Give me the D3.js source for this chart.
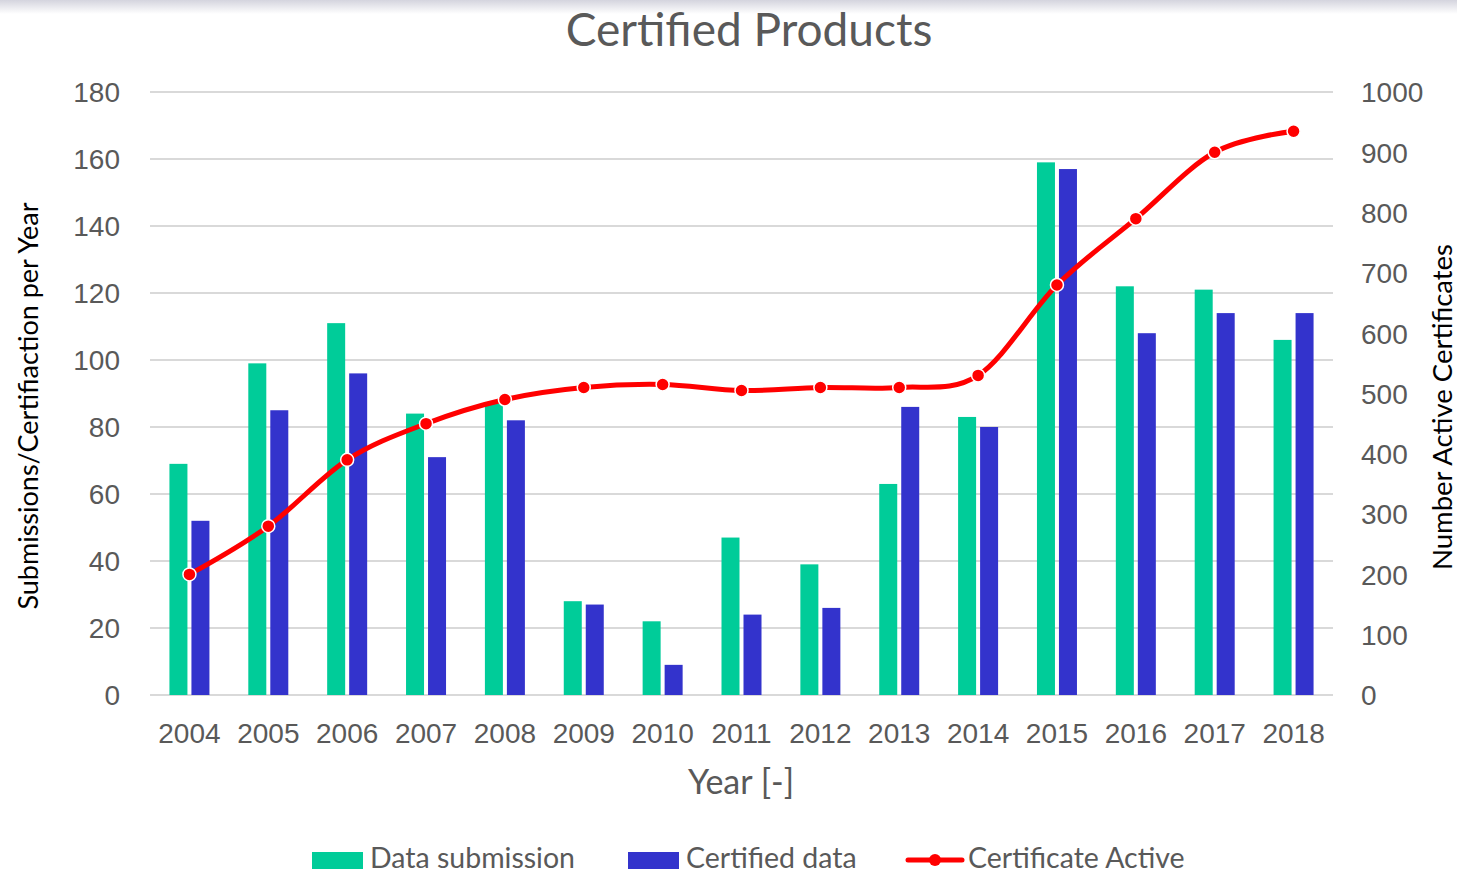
<!DOCTYPE html>
<html>
<head>
<meta charset="utf-8">
<script src="https://cdn.jsdelivr.net/npm/d3@7"></script>
<style>
  body { margin: 0; background: #fff; }
  svg { display: block; font-family: Lato, "Open Sans", sans-serif; }
</style>
</head>
<body>
<svg width="1457" height="875"></svg>
<script>
const years = ['2004', '2005', '2006', '2007', '2008', '2009', '2010', '2011', '2012', '2013', '2014', '2015', '2016', '2017', '2018'];
const submissions = [69, 99, 111, 84, 87, 28, 22, 47, 39, 63, 83, 159, 122, 121, 106];
const certified = [52, 85, 96, 71, 82, 27, 9, 24, 26, 86, 80, 157, 108, 114, 114];
const activeCerts = [200, 280, 390, 450, 490, 510, 515, 505, 510, 510, 530, 680, 790, 900, 935];
const leftTicks = [0, 20, 40, 60, 80, 100, 120, 140, 160, 180];
const rightTicks = [0, 100, 200, 300, 400, 500, 600, 700, 800, 900, 1000];

const svg = d3.select('svg');
const margin = { left: 150, right: 1333, top: 92, bottom: 695 };
const textGrey = '#595959';

// faint shadow along the top edge
const defs = svg.append('defs');
const grad = defs.append('linearGradient').attr('id', 'topShade')
    .attr('x1', 0).attr('y1', 0).attr('x2', 0).attr('y2', 1);
grad.append('stop').attr('offset', 0).attr('stop-color', '#d4d4de');
grad.append('stop').attr('offset', 1).attr('stop-color', '#ffffff');
svg.append('rect').attr('width', 1457).attr('height', 14).attr('fill', 'url(#topShade)');

const x = d3.scaleBand().domain(years).range([margin.left, margin.right]).padding(0);
const yLeft = d3.scaleLinear().domain([0, 180]).range([margin.bottom, margin.top]);
const yRight = d3.scaleLinear().domain([0, 1000]).range([margin.bottom, margin.top]);

// gridlines
svg.append('g').selectAll('line').data(leftTicks)
    .enter().append('line')
    .attr('x1', margin.left).attr('x2', margin.right)
    .attr('y1', d => yLeft(d)).attr('y2', d => yLeft(d))
    .attr('stroke', '#d9d9d9').attr('stroke-width', 2);

// left axis
const leftAxis = svg.append('g')
    .attr('transform', `translate(${margin.left},0)`)
    .call(d3.axisLeft(yLeft).tickValues(leftTicks).tickSize(0).tickPadding(30));
leftAxis.select('.domain').remove();
leftAxis.selectAll('text').attr('fill', textGrey).style('font-size', '28px').attr('dy', '0.35em');

// right axis
const rightAxis = svg.append('g')
    .attr('transform', `translate(${margin.right},0)`)
    .call(d3.axisRight(yRight).tickValues(rightTicks).tickFormat(d3.format('d')).tickSize(0).tickPadding(28));
rightAxis.select('.domain').remove();
rightAxis.selectAll('text').attr('fill', textGrey).style('font-size', '28px').attr('dy', '0.35em');

// bottom axis
const bottomAxis = svg.append('g')
    .attr('transform', `translate(0,${margin.bottom})`)
    .call(d3.axisBottom(x).tickSize(0).tickPadding(28));
bottomAxis.select('.domain').remove();
bottomAxis.selectAll('text').attr('fill', textGrey).style('font-size', '28px');

// bars
const barW = 18, gap = 4;
svg.append('g').selectAll('rect').data(submissions)
    .enter().append('rect')
    .attr('x', (d, i) => x(years[i]) + x.bandwidth() / 2 - gap / 2 - barW)
    .attr('y', d => yLeft(d))
    .attr('width', barW)
    .attr('height', d => yLeft(0) - yLeft(d))
    .attr('fill', '#00cc99');

svg.append('g').selectAll('rect').data(certified)
    .enter().append('rect')
    .attr('x', (d, i) => x(years[i]) + x.bandwidth() / 2 + gap / 2)
    .attr('y', d => yLeft(d))
    .attr('width', barW)
    .attr('height', d => yLeft(0) - yLeft(d))
    .attr('fill', '#3333cc');

// active certificates line
const line = d3.line()
    .x((d, i) => x(years[i]) + x.bandwidth() / 2)
    .y(d => yRight(d))
    .curve(d3.curveCatmullRom.alpha(0));

svg.append('path')
    .attr('d', line(activeCerts))
    .attr('fill', 'none')
    .attr('stroke', '#ff0000')
    .attr('stroke-width', 5)
    .attr('stroke-linecap', 'round');

svg.append('g').selectAll('circle').data(activeCerts)
    .enter().append('circle')
    .attr('cx', (d, i) => x(years[i]) + x.bandwidth() / 2)
    .attr('cy', d => yRight(d))
    .attr('r', 6.5)
    .attr('fill', '#ff0000')
    .attr('stroke', '#ffffff')
    .attr('stroke-width', 1.5);

// titles
svg.append('text')
    .attr('x', 749).attr('y', 46)
    .attr('text-anchor', 'middle')
    .attr('fill', textGrey)
    .style('font-size', '46px')
    .text('Certified Products');

svg.append('text')
    .attr('transform', 'translate(38,406) rotate(-90)')
    .attr('text-anchor', 'middle')
    .attr('fill', '#000')
    .style('font-size', '27px')
    .text('Submissions/Certifiaction per Year');

svg.append('text')
    .attr('transform', 'translate(1452,407) rotate(-90)')
    .attr('text-anchor', 'middle')
    .attr('fill', '#000')
    .style('font-size', '27.5px')
    .text('Number Active Certificates');

svg.append('text')
    .attr('x', 741).attr('y', 794)
    .attr('text-anchor', 'middle')
    .attr('fill', textGrey)
    .style('font-size', '34px')
    .text('Year [-]');

// legend
const legend = svg.append('g').attr('transform', 'translate(0,858)');
const legendItems = [
    { label: 'Data submission', color: '#00cc99', type: 'bar', x: 312 },
    { label: 'Certified data', color: '#3333cc', type: 'bar', x: 628 },
    { label: 'Certificate Active', color: '#ff0000', type: 'line', x: 908 }
];

legendItems.forEach(item => {
    if (item.type === 'bar') {
        legend.append('rect')
            .attr('x', item.x).attr('y', -6)
            .attr('width', 51).attr('height', 17)
            .attr('fill', item.color);
    } else {
        legend.append('line')
            .attr('x1', item.x).attr('x2', item.x + 54)
            .attr('y1', 2).attr('y2', 2)
            .attr('stroke', item.color).attr('stroke-width', 5)
            .attr('stroke-linecap', 'round');
        legend.append('circle')
            .attr('cx', item.x + 27).attr('cy', 2).attr('r', 6)
            .attr('fill', item.color);
    }
    legend.append('text')
        .attr('x', item.x + (item.type === 'bar' ? 58 : 60))
        .attr('y', 0).attr('dy', '0.35em')
        .attr('fill', textGrey)
        .style('font-size', '28.5px')
        .text(item.label);
});
</script>
</body>
</html>
